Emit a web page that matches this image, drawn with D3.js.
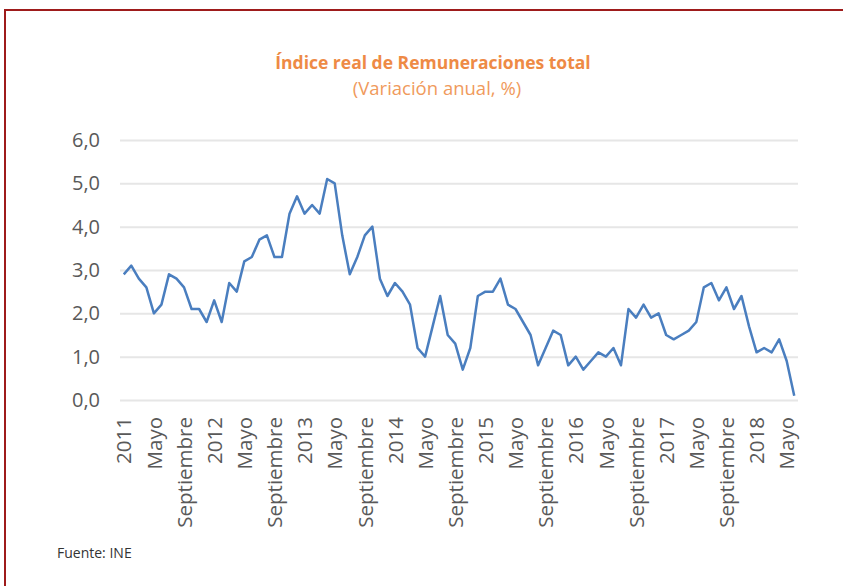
<!DOCTYPE html>
<html>
<head>
<meta charset="utf-8">
<script src="https://cdn.jsdelivr.net/npm/d3@7"></script>
<style>
  body { margin: 0; background: #fff; }
  text { font-family: "Open Sans", sans-serif; }
</style>
</head>
<body>
<div id="container"></div>
<script>
// monthly series, Jan 2011 - Jun 2018
let years = [2011, 2012, 2013, 2014, 2015, 2016, 2017, 2018];
let monthNames = ['Enero', 'Febrero', 'Marzo', 'Abril', 'Mayo', 'Junio', 'Julio',
    'Agosto', 'Septiembre', 'Octubre', 'Noviembre', 'Diciembre'];
let labeledMonths = ['Mayo', 'Septiembre'];
let values = [
    2.9, 3.1, 2.8, 2.6, 2.0, 2.2, 2.9, 2.8, 2.6, 2.1, 2.1, 1.8,
    2.3, 1.8, 2.7, 2.5, 3.2, 3.3, 3.7, 3.8, 3.3, 3.3, 4.3, 4.7,
    4.3, 4.5, 4.3, 5.1, 5.0, 3.8, 2.9, 3.3, 3.8, 4.0, 2.8, 2.4,
    2.7, 2.5, 2.2, 1.2, 1.0, 1.7, 2.4, 1.5, 1.3, 0.7, 1.2, 2.4,
    2.5, 2.5, 2.8, 2.2, 2.1, 1.8, 1.5, 0.8, 1.2, 1.6, 1.5, 0.8,
    1.0, 0.7, 0.9, 1.1, 1.0, 1.2, 0.8, 2.1, 1.9, 2.2, 1.9, 2.0,
    1.5, 1.4, 1.5, 1.6, 1.8, 2.6, 2.7, 2.3, 2.6, 2.1, 2.4, 1.7,
    1.1, 1.2, 1.1, 1.4, 0.9, 0.1
];
let yTicks = [0, 1, 2, 3, 4, 5, 6];

// build the category list (one per month)
let data = values.map(function (v, i) {
    let year = years[Math.floor(i / 12)];
    let month = monthNames[i % 12];
    let label = '';
    if (i % 12 == 0) {
        label = String(year);
    } else if (labeledMonths.indexOf(month) >= 0) {
        label = month;
    }
    return { key: year + '-' + month, label: label, value: v };
});

let viz = d3.select('#container')
    .append('svg')
    .attr('width', 843)
    .attr('height', 586)
    ;

// frame
viz.append('rect')
    .attr('x', 5)
    .attr('y', 10)
    .attr('width', 900)
    .attr('height', 700)
    .attr('fill', 'none')
    .attr('stroke', '#9e1b1b')
    .attr('stroke-width', 2);

// titles
viz.append('text')
    .attr('x', 433)
    .attr('y', 69)
    .attr('text-anchor', 'middle')
    .attr('font-size', 17.5)
    .attr('font-weight', 'bold')
    .attr('fill', '#ee8a45')
    .text('Índice real de Remuneraciones total');

viz.append('text')
    .attr('x', 437)
    .attr('y', 95)
    .attr('text-anchor', 'middle')
    .attr('font-size', 18.5)
    .attr('fill', '#f09a5c')
    .text('(Variación anual, %)');

let x = d3.scalePoint()
    .domain(data.map(d => d.key))
    .range([120, 798])
    .padding(0.5);

let y = d3.scaleLinear()
    .domain([0, 6])
    .range([400, 140]);

// gridlines + y labels
let yAxis = d3.axisLeft(y)
    .tickValues(yTicks)
    .tickSize(-678)
    .tickPadding(20)
    .tickFormat(d => d3.format('.1f')(d).replace('.', ','));

let yg = viz.append('g')
    .attr('transform', 'translate(120,0)')
    .call(yAxis);
yg.select('.domain').remove();
yg.selectAll('line')
    .attr('stroke', '#e6e6e6')
    .attr('stroke-width', 2);
yg.selectAll('text')
    .attr('font-size', 20)
    .attr('fill', '#595959')
    .attr('font-family', '"Open Sans", sans-serif');

// x labels
let xAxis = d3.axisBottom(x)
    .tickValues(data.filter(d => d.label != '').map(d => d.key))
    .tickSize(0)
    .tickFormat(function (k) {
        return data.find(d => d.key == k).label;
    });

let xg = viz.append('g')
    .attr('transform', 'translate(0,400)')
    .call(xAxis);
xg.select('.domain').remove();
xg.selectAll('text')
    .attr('font-size', 20.5)
    .attr('fill', '#595959')
    .attr('font-family', '"Open Sans", sans-serif')
    .attr('text-anchor', 'end')
    .attr('transform', 'rotate(-90)')
    .attr('x', -17)
    .attr('y', 0)
    .attr('dy', '0.35em');

// the series
let line = d3.line()
    .x(d => x(d.key))
    .y(d => y(d.value));

viz.append('path')
    .datum(data)
    .attr('d', line)
    .attr('fill', 'none')
    .attr('stroke', '#4a7ebf')
    .attr('stroke-width', 2.5)
    .attr('stroke-linejoin', 'round');

// source
viz.append('text')
    .attr('x', 57)
    .attr('y', 558)
    .attr('font-size', 14)
    .attr('fill', '#333')
    .attr('font-family', '"Liberation Sans", Arial, sans-serif')
    .text('Fuente: INE');
</script>
</body>
</html>
